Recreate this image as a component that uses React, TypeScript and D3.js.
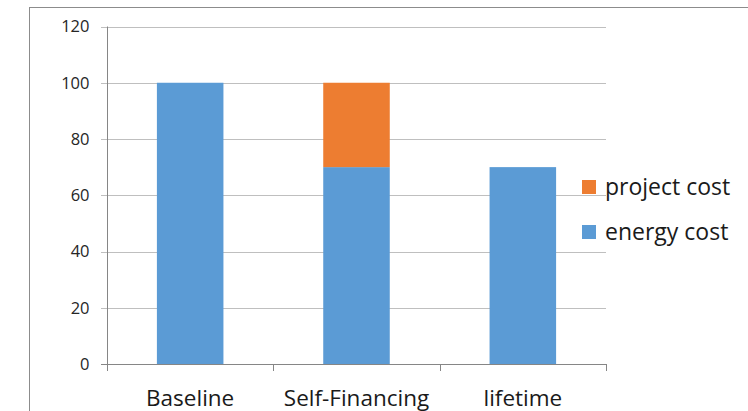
import React, { useEffect, useRef } from 'react';
import * as d3 from 'd3';

const categories = ['Baseline', 'Self-Financing', 'lifetime'];
const energyCost = [100, 70, 70];
const projectCost = [0, 30, 0];
const yTicks = [0, 20, 40, 60, 80, 100, 120];
const seriesNames = ['project cost', 'energy cost'];
const seriesColors = ['#ED7D31', '#5B9BD5'];

const App = () => {
  const chartRef = useRef<SVGSVGElement | null>(null);

  useEffect(() => {
    const width = 748;
    const height = 411;
    const font = '"Open Sans", sans-serif';

    const svg = d3.select(chartRef.current)
      .attr('width', width)
      .attr('height', height);
    svg.selectAll('*').remove();

    svg.append('rect')
      .attr('x', 0).attr('y', 0)
      .attr('width', width).attr('height', height)
      .attr('fill', '#fff');

    // chart frame (right and bottom sit outside the window)
    svg.append('rect')
      .attr('x', 29.5).attr('y', 7.5)
      .attr('width', 740).attr('height', 420)
      .attr('fill', 'none')
      .attr('stroke', '#8c8c8c');

    const x = d3.scaleBand().domain(categories).range([107, 606]).paddingInner(0).paddingOuter(0);
    const y = d3.scaleLinear().domain([0, 120]).range([364, 26.5]);
    const barW = x.bandwidth() * 0.4;

    // gridlines + tick labels
    svg.append('g')
      .selectAll('line')
      .data(yTicks.filter(t => t > 0))
      .enter()
      .append('line')
      .attr('x1', 101).attr('x2', 606)
      .attr('y1', d => Math.round(y(d)) + 0.5)
      .attr('y2', d => Math.round(y(d)) + 0.5)
      .attr('stroke', '#bfbfbf');

    svg.append('g')
      .selectAll('text')
      .data(yTicks)
      .enter()
      .append('text')
      .attr('x', 89.5)
      .attr('y', d => y(d))
      .attr('dy', '0.35em')
      .attr('text-anchor', 'end')
      .attr('font-family', font)
      .attr('font-size', 16.5)
      .attr('fill', '#262626')
      .text(d => d);

    // stacked bars
    const rows = categories.map((c, i) => ({ cat: c, energy: energyCost[i], project: projectCost[i] }));
    const bx = (c: string) => (x(c) as number) + (x.bandwidth() - barW) / 2;

    svg.selectAll('.bar-energy')
      .data(rows)
      .enter()
      .append('rect')
      .attr('class', 'bar-energy')
      .attr('x', d => bx(d.cat))
      .attr('y', d => y(d.energy))
      .attr('width', barW)
      .attr('height', d => y(0) - y(d.energy))
      .attr('fill', seriesColors[1]);

    svg.selectAll('.bar-project')
      .data(rows.filter(d => d.project > 0))
      .enter()
      .append('rect')
      .attr('class', 'bar-project')
      .attr('x', d => bx(d.cat))
      .attr('y', d => y(d.energy + d.project))
      .attr('width', barW)
      .attr('height', d => y(d.energy) - y(d.energy + d.project))
      .attr('fill', seriesColors[0]);

    // axes
    const axisColor = '#868686';
    svg.append('line')
      .attr('x1', 107.5).attr('x2', 107.5)
      .attr('y1', y(120)).attr('y2', y(0) + 7)
      .attr('stroke', axisColor);
    svg.append('line')
      .attr('x1', 101).attr('x2', 606)
      .attr('y1', Math.round(y(0)) + 0.5).attr('y2', Math.round(y(0)) + 0.5)
      .attr('stroke', axisColor);
    const xTickPos = categories.map(c => x(c) as number).concat([x.range()[1]]);
    svg.append('g')
      .selectAll('line')
      .data(xTickPos.slice(1))
      .enter()
      .append('line')
      .attr('x1', d => Math.round(d) + 0.5).attr('x2', d => Math.round(d) + 0.5)
      .attr('y1', y(0)).attr('y2', y(0) + 7)
      .attr('stroke', axisColor);

    svg.append('g')
      .selectAll('text')
      .data(categories)
      .enter()
      .append('text')
      .attr('x', d => (x(d) as number) + x.bandwidth() / 2)
      .attr('y', 406)
      .attr('text-anchor', 'middle')
      .attr('font-family', font)
      .attr('font-size', 22.5)
      .attr('fill', '#1a1a1a')
      .text(d => d);

    // legend
    const legend = svg.append('g')
      .selectAll('g')
      .data(seriesNames)
      .enter()
      .append('g')
      .attr('transform', (d, i) => `translate(582,${180 + i * 45})`);
    legend.append('rect')
      .attr('width', 14).attr('height', 14)
      .attr('fill', (d, i) => seriesColors[i]);
    legend.append('text')
      .attr('x', 23)
      .attr('y', 15)
      .attr('font-family', font)
      .attr('font-size', 23)
      .attr('fill', '#1a1a1a')
      .text(d => d);
  }, []);

  return (
    <div style={{ position: 'absolute', left: 0, top: 0 }}>
      <svg ref={chartRef} style={{ display: 'block' }}></svg>
    </div>
  );
};

export default App;
